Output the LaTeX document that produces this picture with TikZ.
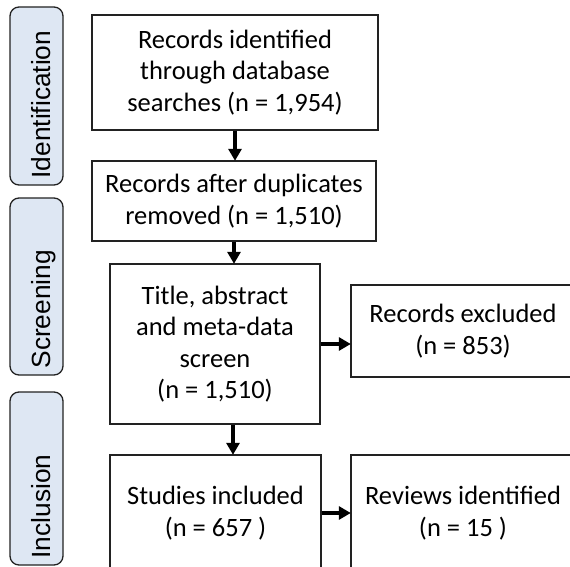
\documentclass[tikz,border=0pt]{standalone}
\usepackage{fontspec}
\setmainfont{Carlito}
\newfontfamily\sidefont{Liberation Sans}
\usetikzlibrary{arrows.meta}
\definecolor{sidefill}{HTML}{DEE7F3}
\definecolor{edge}{HTML}{222222}
\begin{document}
\begin{tikzpicture}[x=1pt,y=-1pt,
  flowbox/.style={draw=edge, line width=1.4pt, align=center, inner sep=0pt,
    font=\fontsize{26.5}{31.5}\selectfont},
  sidebox/.style={draw=edge, line width=1.3pt, fill=sidefill, rounded corners=9pt,
    minimum width=53pt, inner sep=0pt},
  sidetext/.style={rotate=90, anchor=base west, inner sep=0pt,
    font=\sidefont\fontsize{26.3}{30}\selectfont},
  arr/.style={-{Triangle[length=12pt,width=13pt]}, line width=3.2pt, draw=black, shorten >=-0.5pt}]
\useasboundingbox (0,0) rectangle (570,567);
% side labels
\node[sidebox, minimum height=178pt] (sid) at (36.5,96) {};
\node[sidebox, minimum height=177pt] (sscr) at (36.5,286.5) {};
\node[sidebox, minimum height=173pt] (sinc) at (36.5,478.5) {};
\node[sidetext] (tid) at ([xshift=13.5pt,yshift=7pt]sid.south) {Identification};
\node[sidetext] (tscr) at ([xshift=13.5pt,yshift=7pt]sscr.south) {Screening};
\node[sidetext] (tinc) at ([xshift=13.5pt,yshift=7pt]sinc.south) {Inclusion};
% flow boxes
\node[flowbox, minimum width=286pt, minimum height=115pt] (b1) at (235,72.5)
  {Records identified\\through database\\searches (n = 1,954)};
\node[flowbox, minimum width=284pt, minimum height=80pt] (b2) at (234,201)
  {Records after duplicates\\removed (n = 1,510)};
\node[flowbox, minimum width=210pt, minimum height=160pt] (b3) at (215,344)
  {Title, abstract\\and meta-data\\screen\\(n = 1,510)};
\node[flowbox, minimum width=224pt, minimum height=92pt] (b4) at (463,331)
  {Records excluded\\(n = 853)};
\node[flowbox, minimum width=211pt, minimum height=116pt] (b5) at (215.5,513)
  {Studies included\\(n = 657 )};
\node[flowbox, minimum width=224pt, minimum height=116pt] (b6) at (463,513)
  {Reviews identified\\(n = 15 )};
% arrows
\draw[arr] (b1.south) -- (b1.south |- b2.north);
\draw[arr] (b2.south) -- (b2.south |- b3.north);
\draw[arr] ([xshift=18pt]b3.south) -- ([xshift=18pt]b3.south |- b5.north);
\draw[arr] (b3.east) -- (b3.east -| b4.west);
\draw[arr] (b5.east) -- (b5.east -| b6.west);
\end{tikzpicture}
\end{document}
